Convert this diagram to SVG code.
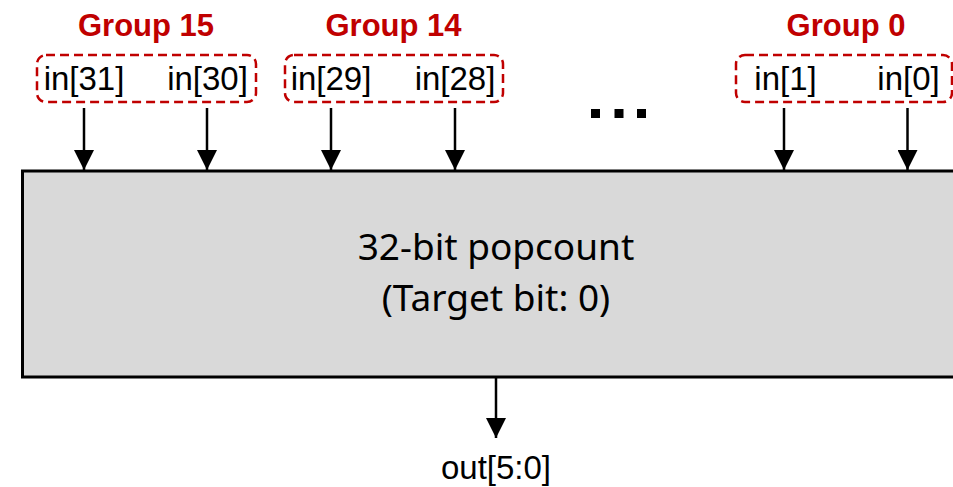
<svg xmlns="http://www.w3.org/2000/svg" width="953" height="487" viewBox="0 0 953 487">
  <style>
    .grp { font-family: "Liberation Sans", Arial, sans-serif; font-weight: bold; font-size: 31px; fill: #c00000; text-anchor: middle; }
    .pin { font-family: "Liberation Sans", Arial, sans-serif; font-size: 33px; fill: #000; text-anchor: middle; }
    .title { font-family: "Noto Sans", "Open Sans", sans-serif; font-size: 37px; fill: #000; text-anchor: middle; }
    .frame { fill: none; stroke: #c00000; stroke-width: 2.5; stroke-dasharray: 9 5; }
    .wire { stroke: #000; stroke-width: 2.5; fill: none; marker-end: url(#arrow); }
  </style>
  <defs>
    <marker id="arrow" markerUnits="userSpaceOnUse" markerWidth="20" markerHeight="20" viewBox="0 0 20 20" refX="20" refY="10" orient="auto">
      <path d="M0,0 L20,10 L0,20 Z" fill="#000"/>
    </marker>
  </defs>
  <rect width="953" height="487" fill="#fff"/>

  <!-- popcount block -->
  <g id="popcount">
    <rect x="22.5" y="171" width="940" height="206" fill="#d9d9d9" stroke="#000" stroke-width="3"/>
    <text class="title" x="496" y="260">32-bit popcount</text>
    <text class="title" x="496" y="311">(Target bit: 0)</text>
  </g>

  <!-- input groups -->
  <g id="group15">
    <text class="grp" x="146" y="36">Group 15</text>
    <rect class="frame" x="37" y="55" width="219" height="47" rx="9"/>
    <text class="pin" x="84" y="90">in[31]</text>
    <text class="pin" x="207.5" y="90">in[30]</text>
  </g>
  <g id="group14">
    <text class="grp" x="393.5" y="36">Group 14</text>
    <rect class="frame" x="285" y="55" width="218" height="47" rx="9"/>
    <text class="pin" x="331" y="90">in[29]</text>
    <text class="pin" x="455" y="90">in[28]</text>
  </g>
  <g id="group0">
    <text class="grp" x="846" y="36">Group 0</text>
    <rect class="frame" x="736" y="55" width="216" height="47" rx="9"/>
    <text class="pin" x="785.5" y="90">in[1]</text>
    <text class="pin" x="908.5" y="90">in[0]</text>
  </g>

  <!-- ellipsis for the omitted groups -->
  <g id="ellipsis" fill="#000">
    <rect x="591" y="109" width="9" height="9"/>
    <rect x="614.5" y="109" width="9" height="9"/>
    <rect x="637" y="109" width="9" height="9"/>
  </g>

  <!-- output label -->
  <g id="output">
    <text class="pin" x="496" y="479">out[5:0]</text>
  </g>

  <!-- connectors -->
  <g id="connectors">
    <line class="wire" x1="84" y1="108" x2="84" y2="170"/>
    <line class="wire" x1="207" y1="108" x2="207" y2="170"/>
    <line class="wire" x1="331" y1="108" x2="331" y2="170"/>
    <line class="wire" x1="455" y1="108" x2="455" y2="170"/>
    <line class="wire" x1="784" y1="108" x2="784" y2="170"/>
    <line class="wire" x1="907.5" y1="108" x2="907.5" y2="170"/>
    <line class="wire" x1="496" y1="378" x2="496" y2="438"/>
  </g>
</svg>
